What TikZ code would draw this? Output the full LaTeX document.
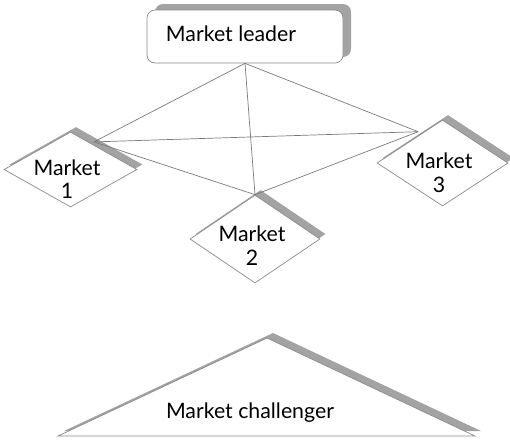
\documentclass[tikz,border=0pt]{standalone}
\usepackage{fontspec}
\setmainfont{Lato}
\usetikzlibrary{shapes.geometric,shadows,calc}
\definecolor{shade}{HTML}{A3A3A3}
\definecolor{rim}{HTML}{8A8A8A}
\definecolor{wire}{HTML}{7A7A7A}
\begin{document}
\begin{tikzpicture}[x=1pt,y=-1pt,
  market/.style={diamond, draw=rim, line width=0.7pt, fill=white, inner sep=0pt,
    general shadow={fill=shade, draw=none, shadow xshift=5.5pt, shadow yshift=5pt}},
  caption/.style={font=\fontsize{21.3}{23.5}\selectfont, align=center, inner sep=0pt},
  wire/.style={draw=wire, line width=0.7pt}]
\useasboundingbox (0,0) rectangle (510,440);

% leader box with its offset shadow
\node[rounded corners=8pt, draw=rim, line width=0.7pt, fill=white,
  minimum width=196pt, minimum height=53pt, inner sep=0pt,
  general shadow={fill=shade, draw=none, shadow xshift=8pt, shadow yshift=6pt}]
  (leader) at (245,36.5) {};
\node[caption, anchor=base] (leadertext) at (231,41) {Market leader};

% the three markets
\node[market, minimum width=133pt, minimum height=75pt] (m1) at (70.5,169.5) {};
\node[market, minimum width=130pt, minimum height=88pt] (m2) at (255,239) {};
\node[market, minimum width=131pt, minimum height=86pt] (m3) at (442.5,163) {};
\node[caption] (m1text) at (67,179) {Market\\1};
\node[caption] (m2text) at (252,245.5) {Market\\2};
\node[caption] (m3text) at (439,172.5) {Market\\3};

% meeting points of the links on the market borders
\coordinate (j1) at ($(m1.north)!0.35!(m1.east)+(0,-3)$);
\coordinate (j3) at ($(m3.north)!0.37!(m3.west)+(0,-4)$);

% links between leader and markets
\draw[wire] (leader.south) -- (j1);
\draw[wire] (leader.south) -- (j3);
\draw[wire] (leader.south) -- (m2.north);
\draw[wire] (j1) -- (j3);
\draw[wire] (j1) -- (m2.north);
\draw[wire] (j3) -- (m2.north);

% challenger triangle
\draw[draw=rim, line width=0.7pt, fill=white,
  general shadow={fill=shade, draw=none, shadow xshift=6pt, shadow yshift=5pt}]
  (58,436) -- (267,338) -- (475,436) -- cycle;
\node[caption, anchor=base] (challenger) at (250,418) {Market challenger};
\end{tikzpicture}
\end{document}
